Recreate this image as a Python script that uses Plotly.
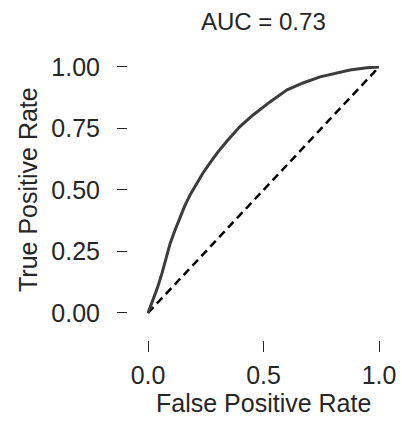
import plotly.graph_objects as go

fpr = [0.0, 0.02, 0.04, 0.061, 0.08, 0.095, 0.117, 0.139, 0.16, 0.182, 0.21, 0.238,
       0.27, 0.299, 0.342, 0.398, 0.455, 0.528, 0.602, 0.671, 0.745, 0.82, 0.874, 0.948, 1.0]
tpr = [0.0, 0.05, 0.1, 0.163, 0.232, 0.28, 0.337, 0.39, 0.437, 0.48, 0.527, 0.569,
       0.612, 0.65, 0.699, 0.758, 0.805, 0.858, 0.907, 0.935, 0.96, 0.978, 0.988, 0.997, 1.0]
chance = [0.0, 1.0]

x_ticks = [0.0, 0.5, 1.0]
x_ticklabels = ["0.0", "0.5", "1.0"]
y_ticks = [0.0, 0.25, 0.5, 0.75, 1.0]
y_ticklabels = ["0.00", "0.25", "0.50", "0.75", "1.00"]

title_text = "AUC = 0.73"
x_title = "False Positive Rate"
y_title = "True Positive Rate"

FONT = "Liberation Sans, Arial, sans-serif"
TXT = "#262626"

W, H = 402, 426
L = 128
T = 66
R = W - 380
B = H - 340
pw = W - L - R
ph = H - T - B

def px(xp):
    return (xp - L) / pw

def py(yp):
    return (H - B - yp) / ph

fig = go.Figure()
fig.add_trace(go.Scatter(x=chance, y=chance, mode="lines",
                         line=dict(color="black", width=2.5, dash="8px,5px"),
                         cliponaxis=False, showlegend=False, hoverinfo="skip"))
fig.add_trace(go.Scatter(x=fpr, y=tpr, mode="lines",
                         line=dict(color="#3c3c3c", width=3),
                         cliponaxis=False, showlegend=False))

fig.update_layout(
    width=W, height=H,
    margin=dict(l=L, r=R, t=T, b=B, pad=0, autoexpand=False),
    paper_bgcolor="white", plot_bgcolor="white",
    font=dict(family=FONT, color=TXT),
    xaxis=dict(range=[-0.0866, 1.0043], tickvals=x_ticks, ticktext=x_ticklabels,
               showgrid=False, zeroline=False, showline=False, automargin=False,
               ticks="outside", ticklen=11, tickwidth=1.3, tickcolor=TXT,
               tickfont=dict(size=25, family=FONT, color=TXT), ticklabelstandoff=2,
               ticklabeloverflow="allow"),
    yaxis=dict(range=[-0.1098, 1.004], tickvals=y_ticks, ticktext=y_ticklabels,
               showgrid=False, zeroline=False, showline=False, automargin=False,
               ticks="outside", ticklen=10, tickwidth=1.3, tickcolor=TXT,
               tickfont=dict(size=25, family=FONT, color=TXT), ticklabelstandoff=12,
               ticklabeloverflow="allow"),
    annotations=[
        dict(text=title_text, x=px(263), y=py(22), xref="paper", yref="paper",
             xanchor="center", yanchor="middle", showarrow=False,
             font=dict(size=24, family=FONT, color=TXT)),
        dict(text=x_title, x=px(263), y=py(403), xref="paper", yref="paper",
             xanchor="center", yanchor="middle", showarrow=False,
             font=dict(size=25, family=FONT, color=TXT)),
        dict(text=y_title, x=px(28), y=py(190), xref="paper", yref="paper",
             xanchor="center", yanchor="middle", showarrow=False, textangle=-90,
             font=dict(size=25, family=FONT, color=TXT)),
    ],
)

fig.write_html("out.html", config={"displayModeBar": False},
               post_script="document.body.style.margin='0';document.body.style.overflow='hidden';")
